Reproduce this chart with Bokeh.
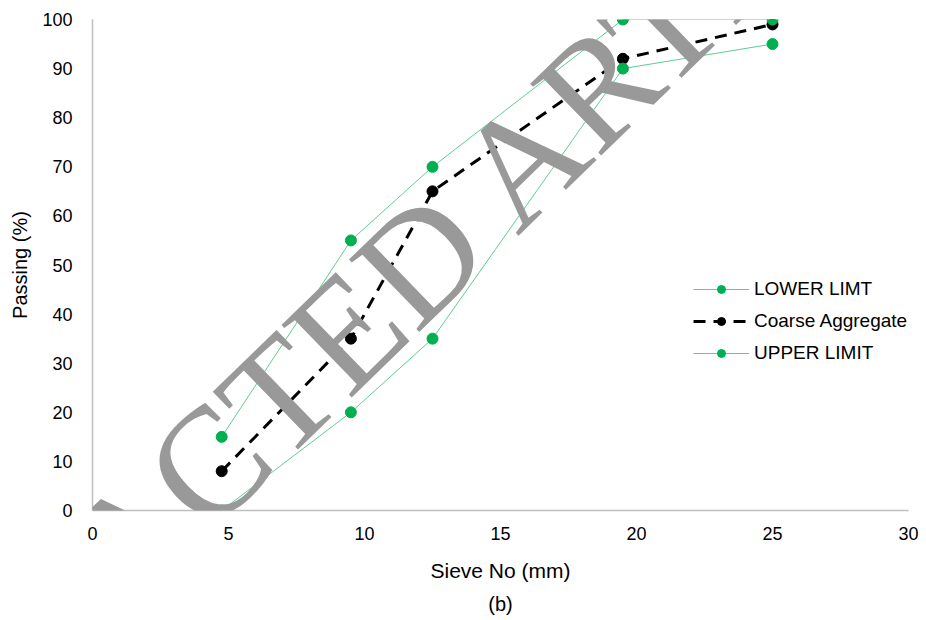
from bokeh.plotting import figure
from bokeh.models import Range1d, Legend, LegendItem, Label, Title, FixedTicker
from bokeh.embed import file_html
from bokeh.resources import INLINE

# ---- data ----
sieve_mm = [4.75, 9.5, 12.5, 19.5, 25]
lower_limit = [0, 20, 35, 90, 95]
coarse_aggregate = [8, 35, 65, 92, 99]
upper_limit = [15, 55, 70, 100, 100]
x_ticks = [0, 5, 10, 15, 20, 25, 30]
y_ticks = [0, 10, 20, 30, 40, 50, 60, 70, 80, 90, 100]

FONT = "Liberation Sans"
GREEN = "#00b050"

p = figure(width=926, height=620, output_backend="svg", toolbar_location=None,
           x_range=Range1d(0, 30), y_range=Range1d(0, 100),
           min_border_left=92, min_border_right=18, min_border_top=19, min_border_bottom=40)
p.outline_line_color = None
p.xgrid.grid_line_color = None
p.ygrid.grid_line_color = None
p.background_fill_color = "white"
p.border_fill_color = "white"

for ax in (p.xaxis[0], p.yaxis[0]):
    ax.axis_line_color = "#bfbfbf"
    ax.axis_line_width = 1.5
    ax.major_tick_line_color = None
    ax.minor_tick_line_color = None
    ax.major_tick_out = 0
    ax.major_tick_in = 0
    ax.minor_tick_out = 0
    ax.minor_tick_in = 0
    ax.major_label_text_font = FONT
    ax.major_label_text_font_size = "18px"
    ax.major_label_text_color = "#000000"
    ax.axis_label_text_font = FONT
    ax.axis_label_text_font_style = "normal"
    ax.axis_label_text_color = "#000000"

p.xaxis.axis_label_text_font_size = "21px"
p.yaxis.axis_label_text_font_size = "20px"
p.xaxis.ticker = FixedTicker(ticks=x_ticks)
p.yaxis.ticker = FixedTicker(ticks=y_ticks)
p.xaxis.axis_label = "Sieve No (mm)"
p.yaxis.axis_label = "Passing (%)"
p.xaxis.major_label_standoff = 16
p.yaxis.major_label_standoff = 20
p.xaxis.axis_label_standoff = 16
p.yaxis.axis_label_standoff = 8

# watermark
wm = Label(x=10.5, y=43.0, x_units="data", y_units="data", text="RETRACTED ARTICLE",
           angle=0.77, text_align="center", text_baseline="alphabetic",
           text_font="Liberation Serif", text_font_size="154px", text_color="#999999")
p.add_layout(wm)

# coarse aggregate
cl = p.line(sieve_mm, coarse_aggregate, line_color="black", line_width=3, line_dash="12 8")
cs = p.scatter(sieve_mm, coarse_aggregate, size=11, fill_color="black", line_color="black")
# lower limit
ll = p.line(sieve_mm, lower_limit, line_color=GREEN, line_width=0.8, line_alpha=0.8)
ls = p.scatter(sieve_mm, lower_limit, size=11, fill_color=GREEN, line_color=GREEN)
# upper limit
ul = p.line(sieve_mm, upper_limit, line_color=GREEN, line_width=0.8, line_alpha=0.8)
us = p.scatter(sieve_mm, upper_limit, size=11, fill_color=GREEN, line_color=GREEN)

legend = Legend(items=[
    LegendItem(label="LOWER LIMT", renderers=[ll, ls]),
    LegendItem(label="Coarse Aggregate", renderers=[cl, cs]),
    LegendItem(label="UPPER LIMIT", renderers=[ul, us]),
], location=(601, 146))
legend.label_text_font = FONT
legend.label_text_font_size = "19px"
legend.label_text_color = "#000000"
legend.glyph_width = 56
legend.glyph_height = 20
legend.label_height = 20
legend.spacing = 10
legend.padding = 0
legend.margin = 0
legend.label_standoff = 5
legend.border_line_color = None
legend.background_fill_alpha = 0
p.add_layout(legend)

# panel caption
cap = Title(text="(b)", align="center", text_font=FONT, text_font_size="20px",
            text_font_style="normal", text_color="#000000", standoff=12)
p.add_layout(cap, "below")

open("out.html", "w").write(file_html(p, INLINE))
